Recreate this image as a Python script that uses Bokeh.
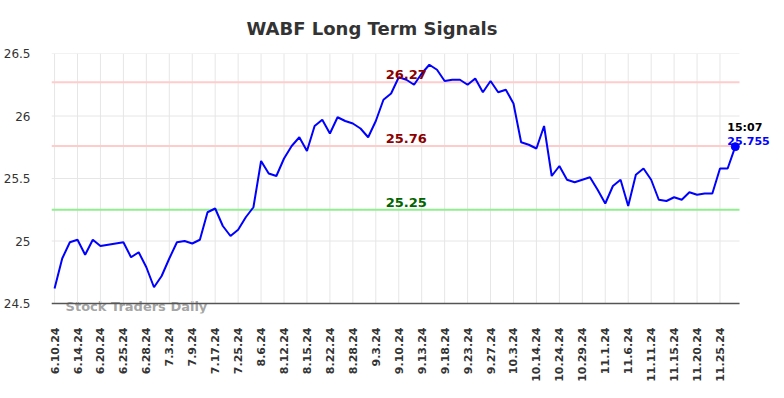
import math
from bokeh.plotting import figure
from bokeh.models import Range1d, FixedTicker, Label, ColumnDataSource, Title
from bokeh.embed import file_html
from bokeh.resources import INLINE

# ---- data ----
tick_labels = ["6.10.24", "6.14.24", "6.20.24", "6.25.24", "6.28.24", "7.3.24", "7.9.24",
               "7.17.24", "7.25.24", "8.6.24", "8.12.24", "8.15.24", "8.22.24", "8.28.24",
               "9.3.24", "9.10.24", "9.13.24", "9.18.24", "9.23.24", "9.27.24", "10.3.24",
               "10.14.24", "10.24.24", "10.29.24", "11.1.24", "11.6.24", "11.11.24",
               "11.15.24", "11.20.24", "11.25.24"]
tick_step = 3

prices = [24.62, 24.86, 24.99, 25.01, 24.89, 25.01, 24.96, 24.97, 24.98, 24.99,
          24.87, 24.91, 24.79, 24.63, 24.72, 24.86, 24.99, 25.00, 24.98, 25.01,
          25.23, 25.26, 25.12, 25.04, 25.09, 25.19, 25.27, 25.64, 25.54, 25.52,
          25.66, 25.76, 25.83, 25.72, 25.92, 25.97, 25.86, 25.99, 25.96, 25.94,
          25.90, 25.83, 25.96, 26.13, 26.18, 26.31, 26.29, 26.25, 26.34, 26.41,
          26.37, 26.28, 26.29, 26.29, 26.25, 26.30, 26.19, 26.28, 26.19, 26.21,
          26.10, 25.79, 25.77, 25.74, 25.92, 25.52, 25.60, 25.49, 25.47, 25.49,
          25.51, 25.41, 25.30, 25.44, 25.49, 25.28, 25.53, 25.58, 25.49, 25.33,
          25.32, 25.35, 25.33, 25.39, 25.37, 25.38, 25.38, 25.58, 25.58, 25.755]

y_ticks = [24.5, 25.0, 25.5, 26.0, 26.5]
y_tick_labels = ["24.5", "25", "25.5", "26", "26.5"]

resistance_high = 26.27
resistance_low = 25.76
support = 25.25
last_time = "15:07"
last_price = 25.755

title_text = "WABF Long Term Signals"
watermark = "Stock Traders Daily"

FONT = "DejaVu Sans"

# visible plot box (data units)
X0, X1 = -0.4, 89.55
Y0, Y1 = y_ticks[0], y_ticks[-1]
# drawing frame is a bit larger so that annotations outside the box are not clipped
PX_PER_X = 688 / (X1 - X0)
PX_PER_Y = 250 / (Y1 - Y0)
FRAME_W, FRAME_H = 720, 260
XF1 = X0 + FRAME_W / PX_PER_X
YF0 = Y1 - FRAME_H / PX_PER_Y

x = list(range(len(prices)))
src = ColumnDataSource(dict(x=x, y=prices))

p = figure(output_backend="svg", toolbar_location=None,
           frame_width=FRAME_W, frame_height=FRAME_H,
           min_border_left=44, min_border_right=4, min_border_top=53, min_border_bottom=77,
           x_range=Range1d(X0, XF1), y_range=Range1d(YF0, Y1))
p.background_fill_color = "white"
p.border_fill_color = "white"
p.outline_line_color = None

t = Title(text=title_text, align="left", offset=195, text_font=FONT,
          text_font_size="18px", text_font_style="bold", text_color="#333333",
          standoff=30)
p.add_layout(t, "above")

# axes
ticks = [i * tick_step for i in range(len(tick_labels))]
p.xaxis.ticker = FixedTicker(ticks=ticks)
p.xaxis.major_label_overrides = {tk: lab for tk, lab in zip(ticks, tick_labels)}
p.xaxis.major_label_orientation = math.pi / 2
p.xaxis.major_label_text_font = FONT
p.xaxis.major_label_text_font_size = "11px"
p.xaxis.major_label_text_font_style = "bold"
p.xaxis.major_label_text_color = "#333333"
p.xaxis.major_label_standoff = 8
p.xaxis.major_tick_line_color = None
p.xaxis.minor_tick_line_color = None
p.xaxis.axis_line_color = None

p.yaxis.ticker = FixedTicker(ticks=y_ticks)
p.yaxis.major_label_overrides = dict(zip(y_ticks, y_tick_labels))
p.yaxis.major_label_text_font = FONT
p.yaxis.major_label_text_font_size = "12px"
p.yaxis.major_label_text_color = "#333333"
p.yaxis.major_label_standoff = 15
p.yaxis.axis_line_color = None
p.yaxis.major_tick_line_color = None
p.yaxis.minor_tick_line_color = None

p.xgrid.visible = False
p.ygrid.visible = False

# grid lines limited to the plot box
p.segment(x0=ticks, y0=[Y0] * len(ticks), x1=ticks, y1=[Y1] * len(ticks),
          line_color="#e6e6e6", line_width=1)
p.segment(x0=[X0] * len(y_ticks), y0=y_ticks, x1=[X1] * len(y_ticks), y1=y_ticks,
          line_color="#e6e6e6", line_width=1)

# level lines
levels = [resistance_high, resistance_low, support]
line_cols = ["#ffcccc", "#ffcccc", "#90ee90"]
text_cols = ["#8b0000", "#8b0000", "#006400"]
p.segment(x0=[X0] * 3, y0=levels, x1=[X1] * 3, y1=levels, line_color=line_cols, line_width=2)

for lvl, col in zip(levels, text_cols):
    p.add_layout(Label(x=43.3, y=lvl, y_offset=3, text=f"{lvl:.2f}", text_font=FONT,
                       text_font_size="13px", text_font_style="bold", text_color=col,
                       text_baseline="bottom", text_align="left"))

# watermark
p.add_layout(Label(x=1.44, y=Y0, y_offset=-2.5, text=watermark, text_font=FONT,
                   text_font_size="13px", text_font_style="bold", text_color="#999999",
                   text_alpha=0.9, text_baseline="alphabetic", level="underlay"))

# x axis line
p.segment(x0=[X0], y0=[Y0], x1=[X1], y1=[Y0], line_color="#555555", line_width=1.5)

# price line
p.line("x", "y", source=src, line_color="blue", line_width=2)
p.scatter([x[-1]], [prices[-1]], size=8, color="blue")

p.add_layout(Label(x=x[-1], y=prices[-1], x_offset=-8, y_offset=19, text=last_time,
                   text_font=FONT, text_font_size="11px", text_font_style="bold",
                   text_color="black", text_baseline="alphabetic"))
p.add_layout(Label(x=x[-1], y=prices[-1], x_offset=-8, y_offset=6, text=f"{last_price}",
                   text_font=FONT, text_font_size="11px", text_font_style="bold",
                   text_color="blue", text_baseline="alphabetic"))

open("out.html", "w").write(file_html(p, INLINE))
